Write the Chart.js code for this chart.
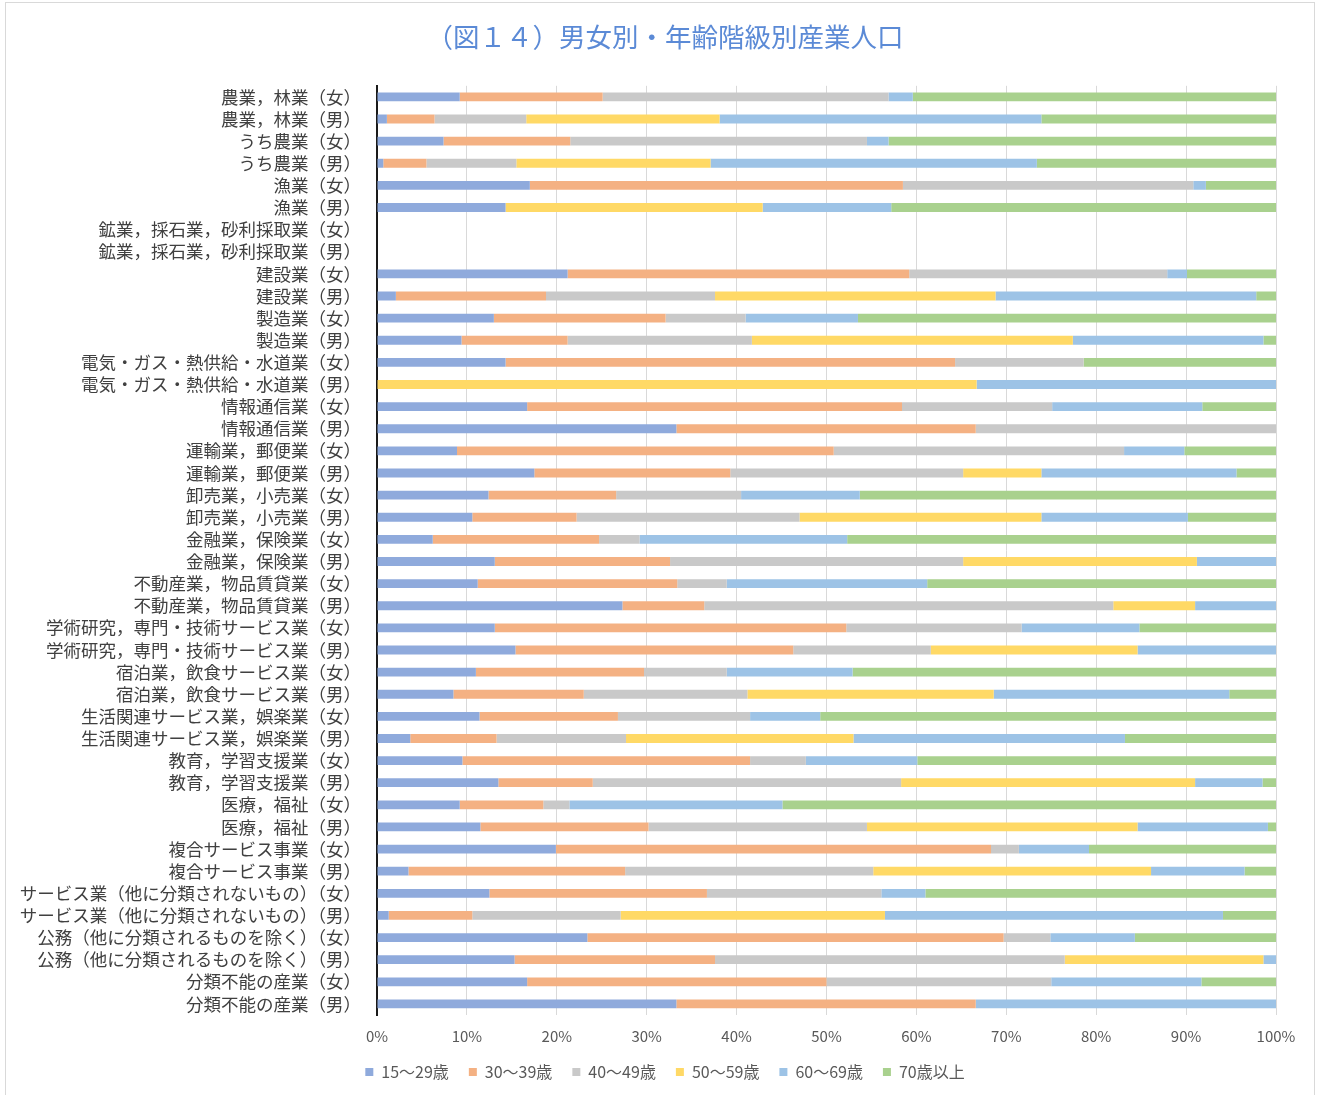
<!DOCTYPE html>
<html lang="ja">
<head>
<meta charset="utf-8">
<title>男女別・年齢階級別産業人口</title>
<script src="https://cdn.jsdelivr.net/npm/chart.js@4"></script>
<style>
  html, body { margin: 0; padding: 0; background: #ffffff; }
  #frame {
    position: absolute; left: 5px; top: 2px; width: 1310px; height: 1100px;
    border: 1px solid #d9d9d9; box-sizing: border-box;
  }
  #wrap { position: absolute; left: 0; top: 0; width: 1319px; height: 1095px; }
</style>
</head>
<body>
<div id="frame"></div>
<div id="wrap"><canvas id="chart" width="1319" height="1095"></canvas></div>
<script>
// 産業分類（男女別）
const categories = [
  '農業，林業（女）', '農業，林業（男）',
  'うち農業（女）', 'うち農業（男）',
  '漁業（女）', '漁業（男）',
  '鉱業，採石業，砂利採取業（女）', '鉱業，採石業，砂利採取業（男）',
  '建設業（女）', '建設業（男）',
  '製造業（女）', '製造業（男）',
  '電気・ガス・熱供給・水道業（女）', '電気・ガス・熱供給・水道業（男）',
  '情報通信業（女）', '情報通信業（男）',
  '運輸業，郵便業（女）', '運輸業，郵便業（男）',
  '卸売業，小売業（女）', '卸売業，小売業（男）',
  '金融業，保険業（女）', '金融業，保険業（男）',
  '不動産業，物品賃貸業（女）', '不動産業，物品賃貸業（男）',
  '学術研究，専門・技術サービス業（女）', '学術研究，専門・技術サービス業（男）',
  '宿泊業，飲食サービス業（女）', '宿泊業，飲食サービス業（男）',
  '生活関連サービス業，娯楽業（女）', '生活関連サービス業，娯楽業（男）',
  '教育，学習支援業（女）', '教育，学習支援業（男）',
  '医療，福祉（女）', '医療，福祉（男）',
  '複合サービス事業（女）', '複合サービス事業（男）',
  'サービス業（他に分類されないもの）（女）', 'サービス業（他に分類されないもの）（男）',
  '公務（他に分類されるものを除く）（女）', '公務（他に分類されるものを除く）（男）',
  '分類不能の産業（女）', '分類不能の産業（男）'
];

// 年齢階級名
const seriesNames = ['15～29歳', '30～39歳', '40～49歳', '50～59歳', '60～69歳', '70歳以上'];

// 年齢階級別の構成比（％）
const age15to29 = [9.2, 1.1, 7.4, 0.7, 17.0, 14.3, 0, 0, 21.2, 2.1, 13.0, 9.4, 14.3, 0, 16.7, 33.3, 8.9, 17.5, 12.4, 10.6, 6.2, 13.1, 11.2, 27.3, 13.1, 15.4, 11.0, 8.5, 11.4, 3.7, 9.5, 13.5, 9.2, 11.5, 19.9, 3.5, 12.5, 1.3, 23.4, 15.3, 16.7, 33.3];
const age30to39 = [15.9, 5.3, 14.1, 4.8, 41.5, 0, 0, 0, 38.0, 16.7, 19.1, 11.8, 50.0, 0, 41.7, 33.3, 41.9, 21.8, 14.2, 11.6, 18.5, 19.5, 22.2, 9.1, 39.1, 30.9, 18.7, 14.5, 15.4, 9.6, 32.0, 10.5, 9.3, 18.7, 48.4, 24.1, 24.2, 9.3, 46.3, 22.3, 33.3, 33.3];
const age40to49 = [31.8, 10.2, 33.0, 10.0, 32.3, 0, 0, 0, 28.7, 18.8, 8.9, 20.5, 14.3, 0, 16.7, 33.4, 32.3, 25.9, 13.9, 24.8, 4.5, 32.6, 5.5, 45.5, 19.5, 15.3, 9.2, 18.2, 14.7, 14.4, 6.2, 34.3, 2.9, 24.3, 3.1, 27.6, 19.4, 16.5, 5.2, 38.9, 25.0, 0];
const age50to59 = [0, 21.5, 0, 21.6, 0, 28.6, 0, 0, 0, 31.2, 0, 35.7, 0, 66.7, 0, 0, 0, 8.7, 0, 26.9, 0, 26.0, 0, 9.1, 0, 23.0, 0, 27.4, 0, 25.3, 0, 32.7, 0, 30.1, 0, 30.9, 0, 29.4, 0, 22.1, 0, 0];
const age60to69 = [2.7, 35.8, 2.4, 36.3, 1.4, 14.3, 0, 0, 2.2, 29.0, 12.5, 21.2, 0, 33.3, 16.7, 0, 6.7, 21.7, 13.2, 16.3, 23.1, 8.8, 22.3, 9.1, 13.1, 15.4, 14.0, 26.2, 7.8, 30.2, 12.4, 7.5, 23.7, 14.5, 7.8, 10.4, 4.9, 37.6, 9.4, 1.4, 16.7, 33.4];
const age70plus = [40.4, 26.1, 43.1, 26.6, 7.8, 42.8, 0, 0, 9.9, 2.2, 46.5, 1.4, 21.4, 0, 8.3, 0, 10.2, 4.4, 46.3, 9.8, 47.7, 0, 38.8, 0, 15.2, 0, 47.1, 5.2, 50.7, 16.8, 39.9, 1.5, 54.9, 0.9, 20.8, 3.5, 39.0, 5.9, 15.7, 0, 8.3, 0];

// 目盛り（％）
const tickValues = [0, 10, 20, 30, 40, 50, 60, 70, 80, 90, 100];

const seriesData = [age15to29, age30to39, age40to49, age50to59, age60to69, age70plus];
const seriesColors = ['#8faadc', '#f4b183', '#c9c9c9', '#ffd966', '#9dc3e6', '#a9d18e'];

const FONT = "'Noto Sans CJK JP', 'Noto Sans', sans-serif";

const datasets = seriesNames.map((name, i) => ({
  label: name,
  data: seriesData[i],
  backgroundColor: seriesColors[i],
  borderWidth: 0,
  barPercentage: 0.8,
  categoryPercentage: 0.5
}));

// タイトルと凡例を図全体の中央へ寄せる
const centerBlocks = {
  id: 'centerBlocks',
  afterLayout(chart) {
    const shift = 27;
    [chart.titleBlock, chart.legend].forEach((box) => {
      if (box) { box.left += shift; box.right += shift; }
    });
  }
};

new Chart(document.getElementById('chart'), {
  type: 'bar',
  data: { labels: categories, datasets },
  plugins: [centerBlocks],
  options: {
    indexAxis: 'y',
    responsive: false,
    animation: false,
    layout: { padding: { left: 0, right: 43, top: 0, bottom: 5 } },
    plugins: {
      title: {
        display: true,
        text: '（図１４）男女別・年齢階級別産業人口',
        color: '#5b8ad6',
        font: { family: FONT, size: 26.5, weight: 'normal' },
        padding: { top: 21, bottom: 33 }
      },
      legend: {
        position: 'bottom',
        labels: {
          color: '#595959',
          font: { family: FONT, size: 16 },
          boxWidth: 8,
          boxHeight: 8,
          padding: 20
        }
      },
      tooltip: { enabled: false }
    },
    scales: {
      x: {
        stacked: true,
        min: 0,
        max: 100,
        afterBuildTicks: (scale) => { scale.ticks = tickValues.map(v => ({ value: v })); },
        afterFit: (scale) => { scale.height -= 13; },
        ticks: {
          color: '#595959',
          font: { family: FONT, size: 15 },
          padding: 12,
          callback: (v) => v + '%'
        },
        grid: { color: '#d9d9d9', lineWidth: 1, drawTicks: false },
        border: { display: false }
      },
      y: {
        stacked: true,
        afterFit: (scale) => { scale.width = 377; },
        ticks: {
          color: '#404040',
          font: { family: FONT, size: 17.5 },
          padding: 16,
          autoSkip: false
        },
        grid: { display: false, drawTicks: false },
        border: { display: true, color: '#1a1a1a', width: 2 }
      }
    }
  }
});
</script>
</body>
</html>
